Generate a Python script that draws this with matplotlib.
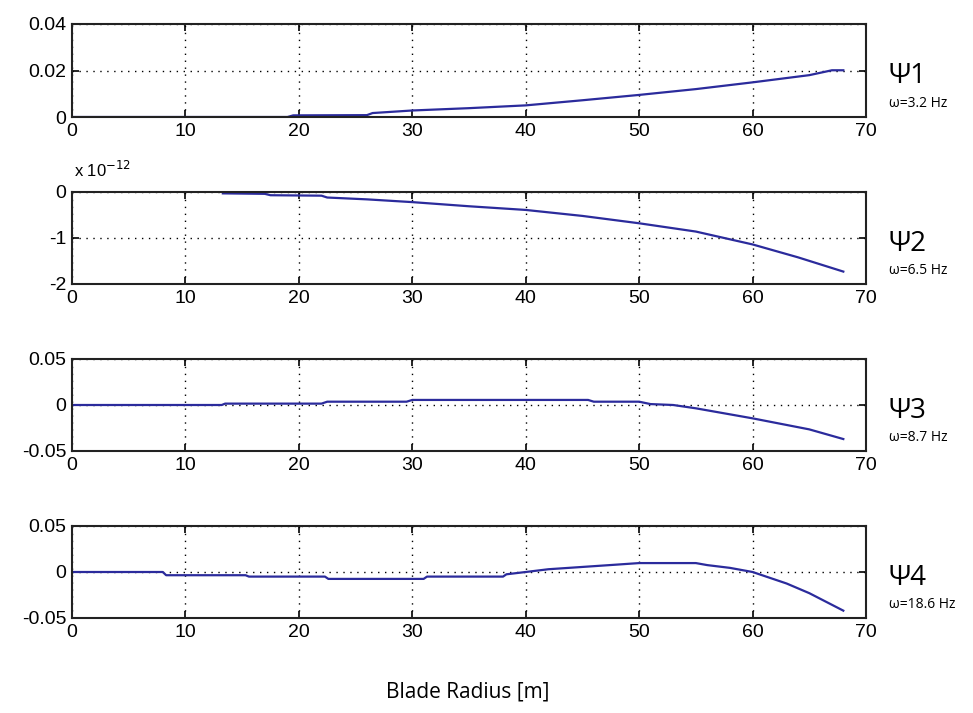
import numpy as np
import matplotlib
matplotlib.use("Agg")
import matplotlib.pyplot as plt

# mode shapes (radius in m)
r1 = [0, 19, 19.5, 26, 26.5, 30, 35, 40, 45, 50, 55, 60, 65, 67, 68]
psi1 = [0, 0, 0.0007, 0.0008, 0.0017, 0.0028, 0.0038, 0.005, 0.0072, 0.0095,
        0.012, 0.0149, 0.018, 0.0201, 0.0201]

# psi2 in units of 1e-12
r2 = [13.3, 17, 17.5, 22, 22.5, 26, 30, 35, 40, 45, 50, 55, 60, 64, 68]
psi2 = [-0.03, -0.04, -0.07, -0.08, -0.12, -0.16, -0.22, -0.31, -0.39, -0.52,
        -0.68, -0.86, -1.14, -1.42, -1.73]

r3 = [0, 13.2, 13.5, 22, 22.5, 29.5, 30, 45.5, 46, 50, 51, 53, 55, 60, 65, 68]
psi3 = [0, 0, 0.0015, 0.0015, 0.0036, 0.0036, 0.0055, 0.0055, 0.0036, 0.0036,
        0.001, 0.0, -0.0036, -0.0145, -0.0265, -0.037]

r4 = [0, 8, 8.3, 15.3, 15.6, 22.3, 22.6, 31, 31.3, 38, 38.3, 40, 42, 45, 48,
      50, 55, 56, 58, 60, 63, 65, 68]
psi4 = [0, 0, -0.0035, -0.0035, -0.005, -0.005, -0.0075, -0.0075, -0.005,
        -0.005, -0.0025, 0, 0.003, 0.0055, 0.008, 0.0097, 0.0097, 0.0075,
        0.0045, 0, -0.0125, -0.023, -0.042]

modes = ["\u03a81", "\u03a82", "\u03a83", "\u03a84"]
freqs = ["\u03c9=3.2 Hz", "\u03c9=6.5 Hz", "\u03c9=8.7 Hz", "\u03c9=18.6 Hz"]

yticks = [[0, 0.02, 0.04], [-2, -1, 0], [-0.05, 0, 0.05], [-0.05, 0, 0.05]]
yticklabels = [["0", "0.02", "0.04"], ["-2", "-1", "0"],
               ["-0.05", "0", "0.05"], ["-0.05", "0", "0.05"]]
xticks = list(range(0, 71, 10))

W, H = 973, 713
fig = plt.figure(figsize=(W / 100, H / 100), dpi=100)
plt.rcParams["font.family"] = ["Liberation Sans", "DejaVu Sans"]

# panel pixel boxes (top, bottom)
boxes = [(24, 117), (192, 284), (359, 451), (526, 618)]
left, right = 72, 866
line_color = "#2b2b9c"

series = [(r1, psi1), (r2, psi2), (r3, psi3), (r4, psi4)]
for i, ((top, bot), (x, y)) in enumerate(zip(boxes, series)):
    ax = fig.add_axes([left / W, 1 - bot / H, (right - left) / W, (bot - top) / H])
    ax.plot(x, y, color=line_color, linewidth=1.6)
    ax.set_xlim(0, 70)
    ax.set_ylim(yticks[i][0], yticks[i][-1])
    ax.set_xticks(xticks, [str(v) for v in xticks])
    ax.set_yticks(yticks[i], yticklabels[i])
    ax.grid(True, color="black", linestyle=(0, (1, 4)), linewidth=1.0)
    ax.tick_params(direction="in", top=True, right=True, length=5, width=1.2,
                   labelsize=14, colors="black", pad=4)
    for sp in ax.spines.values():
        sp.set_linewidth(1.5)
        sp.set_color("#222222")
    yc = 1 - (top + bot) / 2 / H
    fig.text(889 / W, yc - 0.008, modes[i], fontsize=20, family=["Open Sans", "DejaVu Sans"],
             ha="left", va="center")
    fig.text(889 / W, yc - 0.046, freqs[i], fontsize=10, family=["Open Sans", "DejaVu Sans"],
             ha="left", va="center")
    if i == 1:
        fig.text(74 / W, 1 - 170 / H, "x 10$^{-12}$", fontsize=12,
                 ha="left", va="center")

fig.text(468 / W, 1 - 692 / H, "Blade Radius [m]", fontsize=15,
         family=["Open Sans", "DejaVu Sans"], ha="center", va="center")

fig.savefig("out.png", dpi=100)
